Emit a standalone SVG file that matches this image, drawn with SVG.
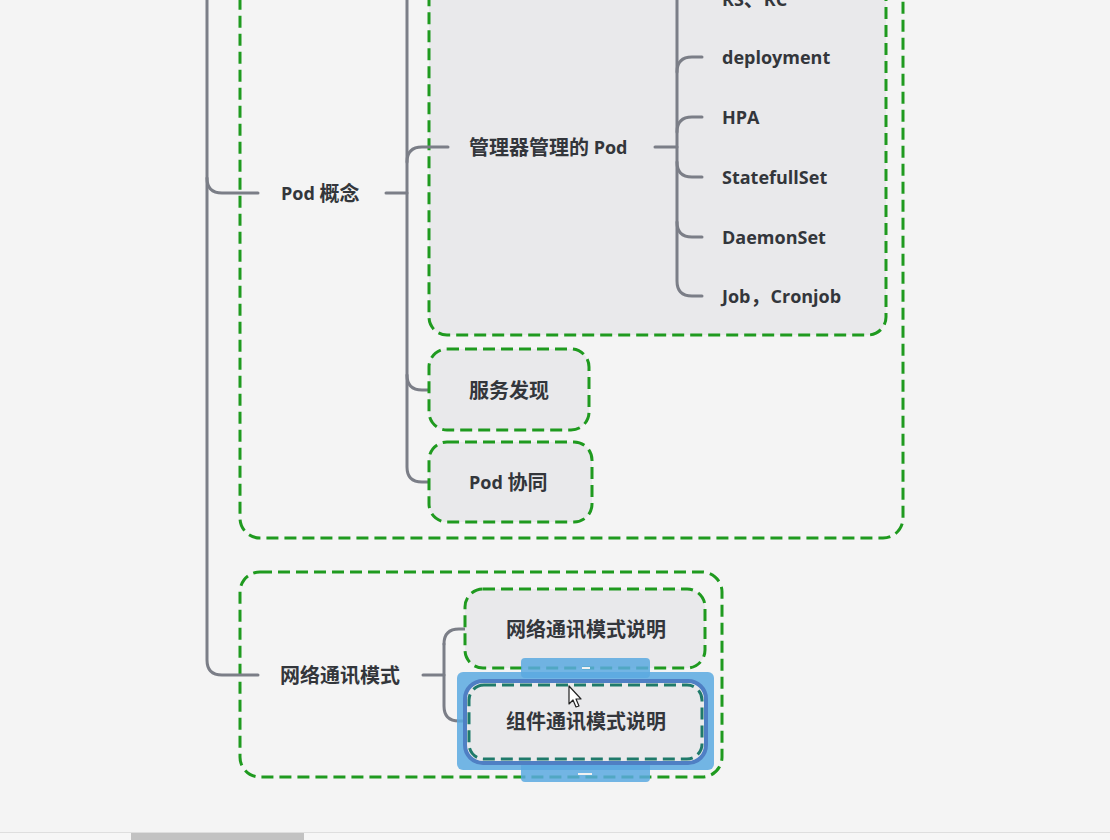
<svg xmlns="http://www.w3.org/2000/svg" width="1110" height="840" viewBox="0 0 1110 840">
  <style>
    .bg { fill: #f4f4f4; }
    .link { fill: none; stroke: #7b7e87; stroke-width: 3; stroke-linecap: round; }
    .frame { fill: #f4f4f4; stroke: #1f9a1f; stroke-width: 3; stroke-dasharray: 12 6; }
    .topic { fill: #e9e9eb; stroke: #1f9a1f; stroke-width: 3; stroke-dasharray: 12 6; }
    .label { font-family: "Open Sans", "Noto Sans CJK SC", sans-serif; font-weight: 700; font-size: 18px; fill: #33363b; dominant-baseline: central; }
    .cjk { font-size: 20px; }
    .sel { fill: #5aa9e0; opacity: 0.85; }
  </style>

  <rect class="bg" x="0" y="0" width="1110" height="840"/>

  <!-- outer frames -->
  <g id="frame-pod">
    <rect class="frame" x="240" y="-30" width="663" height="568" rx="20"/>
  </g>
  <g id="frame-net">
    <rect class="frame" x="240" y="572" width="482" height="205" rx="20"/>
  </g>

  <!-- branch topic boxes -->
  <g id="box-managed">
    <rect class="topic" x="429" y="-30" width="457" height="365" rx="18"/>
  </g>

  <!-- connectors -->
  <g id="connectors">
    <path class="link" d="M207 0 V660 Q207 675 222 675 H258"/>
    <path class="link" d="M207 178 Q207 193 222 193 H258"/>
    <path class="link" d="M386 193 H407"/>
    <path class="link" d="M407 0 V467 Q407 482 422 482 H448"/>
    <path class="link" d="M407 162 Q407 147 422 147 H448"/>
    <path class="link" d="M407 375 Q407 390 422 390 H448"/>
    <path class="link" d="M655 147 H677"/>
    <path class="link" d="M677 0 V281 Q677 296 692 296 H702"/>
    <path class="link" d="M677 72 Q677 57 692 57 H702"/>
    <path class="link" d="M677 132 Q677 117 692 117 H702"/>
    <path class="link" d="M677 162 Q677 177 692 177 H702"/>
    <path class="link" d="M677 222 Q677 237 692 237 H702"/>
    <path class="link" d="M423 675 H444"/>
    <path class="link" d="M444 644 Q444 629 459 629 H485"/>
    <path class="link" d="M444 644 V706 Q444 721 459 721 H485"/>
  </g>

  <g id="node-pod">
    <text class="label" x="281" y="193">Pod <tspan class="cjk">概念</tspan></text>
  </g>
  <g id="node-managed">
    <text class="label" x="469" y="147"><tspan class="cjk">管理器管理的</tspan> Pod</text>
  </g>
  <g id="node-rsrc">
    <text class="label" x="722" y="-1">RS<tspan class="cjk">、</tspan>RC</text>
  </g>
  <g id="node-deployment">
    <text class="label" x="722" y="57">deployment</text>
  </g>
  <g id="node-hpa">
    <text class="label" x="722" y="117">HPA</text>
  </g>
  <g id="node-statefulset">
    <text class="label" x="722" y="177">StatefullSet</text>
  </g>
  <g id="node-daemonset">
    <text class="label" x="722" y="237">DaemonSet</text>
  </g>
  <g id="node-job">
    <text class="label" x="722" y="296">Job<tspan class="cjk">，</tspan>Cronjob</text>
  </g>

  <g id="node-discovery">
    <rect class="topic" x="429" y="349" width="160" height="81" rx="18"/>
    <text class="label cjk" x="469" y="390">服务发现</text>
  </g>
  <g id="node-cowork">
    <rect class="topic" x="429" y="442" width="163" height="80" rx="18"/>
    <text class="label" x="469" y="482">Pod <tspan class="cjk">协同</tspan></text>
  </g>

  <g id="node-net">
    <text class="label cjk" x="280" y="675">网络通讯模式</text>
  </g>
  <g id="node-net-desc">
    <rect class="topic" x="465" y="589" width="240" height="79" rx="18"/>
    <text class="label cjk" x="506" y="629">网络通讯模式说明</text>
  </g>

  <g id="node-comp-desc">
    <!-- selection highlight with resize handles -->
    <rect class="sel" x="521" y="658" width="129" height="20" rx="4"/>
    <rect class="sel" x="521" y="762" width="129" height="20" rx="4"/>
    <rect class="sel" x="457" y="672" width="257" height="98" rx="6"/>
    <rect fill="#e9e9eb" x="465" y="681" width="241" height="82" rx="18"/>
    <rect fill="none" stroke="#4f7fc4" stroke-width="4" x="465" y="681" width="241" height="82" rx="18"/>
    <rect fill="none" stroke="#1f7a6a" stroke-width="3" stroke-dasharray="12 6" x="469" y="685" width="233" height="74" rx="15"/>
    <rect fill="#f2f2f2" x="582" y="667" width="8" height="2"/>
    <rect fill="#f2f2f2" x="578" y="773" width="14" height="2"/>
    <text class="label cjk" x="506" y="721">组件通讯模式说明</text>
  </g>

  <!-- pointer -->
  <path d="M569 686 V704 L573 700 L576 707 L579 706 L576 699 L581 699 Z" fill="#ffffff" stroke="#222" stroke-width="1.2" stroke-linejoin="round"/>

  <!-- horizontal scrollbar -->
  <rect x="0" y="832" width="1110" height="8" fill="#f6f6f6"/>
  <line x1="0" y1="832.5" x2="1110" y2="832.5" stroke="#dedede" stroke-width="1"/>
  <rect x="131" y="833" width="173" height="7" fill="#c2c2c2"/>
</svg>
